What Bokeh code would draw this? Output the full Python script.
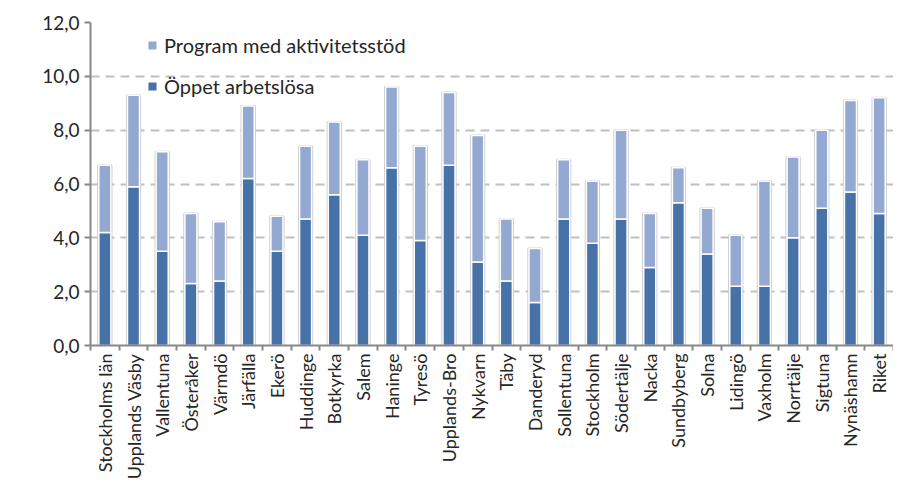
import math
from bokeh.plotting import figure
from bokeh.models import (ColumnDataSource, FixedTicker, CustomJSTickFormatter, Legend,
                          LegendItem, Range1d, Label)
from bokeh.embed import file_html
from bokeh.resources import INLINE

kommuner = ["Stockholms län", "Upplands Väsby", "Vallentuna", "Österåker", "Värmdö",
            "Järfälla", "Ekerö", "Huddinge", "Botkyrka", "Salem", "Haninge", "Tyresö",
            "Upplands-Bro", "Nykvarn", "Täby", "Danderyd", "Sollentuna", "Stockholm",
            "Södertälje", "Nacka", "Sundbyberg", "Solna", "Lidingö", "Vaxholm",
            "Norrtälje", "Sigtuna", "Nynäshamn", "Riket"]
oppet = [4.2, 5.9, 3.5, 2.3, 2.4, 6.2, 3.5, 4.7, 5.6, 4.1, 6.6, 3.9, 6.7, 3.1,
         2.4, 1.6, 4.7, 3.8, 4.7, 2.9, 5.3, 3.4, 2.2, 2.2, 4.0, 5.1, 5.7, 4.9]
program = [2.5, 3.4, 3.7, 2.6, 2.2, 2.7, 1.3, 2.7, 2.7, 2.8, 3.0, 3.5, 2.7, 4.7,
           2.3, 2.0, 2.2, 2.3, 3.3, 2.0, 1.3, 1.7, 1.9, 3.9, 3.0, 2.9, 3.4, 4.3]
y_ticks = [0, 2, 4, 6, 8, 10, 12]

FONT = "Lato"
TXT = "#262626"
DARK = "#4672a8"
LIGHT = "#94a9d1"

n = len(kommuner)
xpos = [i + 0.5 for i in range(n)]
total = [a + b for a, b in zip(oppet, program)]
src = ColumnDataSource(dict(x=xpos, oppet=oppet, program=program, total=total))

p = figure(width=893, height=482, x_range=Range1d(0, n), y_range=Range1d(0, 12),
           output_backend="svg", toolbar_location=None,
           min_border_left=90, min_border_right=0, min_border_top=22, min_border_bottom=135)
p.outline_line_color = None
p.xgrid.grid_line_color = None
p.ygrid.grid_line_color = "#c0c0c0"
p.ygrid.grid_line_width = 2
p.ygrid.grid_line_dash = "9 6"
p.ygrid.ticker = FixedTicker(ticks=y_ticks)

# shadow
p.vbar(x="x", top="total", bottom=0, width=0.46, source=src, fill_color=None,
       line_color="#c8c8c8", line_width=2)
r = p.vbar_stack(["oppet", "program"], x="x", width=0.42, source=src,
                 fill_color=[DARK, LIGHT], line_color="white", line_width=1.5)

p.yaxis.ticker = FixedTicker(ticks=y_ticks)
p.yaxis.formatter = CustomJSTickFormatter(code="return tick.toFixed(1).replace('.', ',');")
p.yaxis.major_label_text_font = FONT
p.yaxis.major_label_text_font_size = "19px"
p.yaxis.major_label_text_color = TXT
p.yaxis.axis_line_color = "#888888"
p.yaxis.axis_line_width = 2
p.yaxis.major_tick_line_color = "#888888"
p.yaxis.major_tick_line_width = 2
p.yaxis.major_tick_out = 6
p.yaxis.major_tick_in = 0
p.yaxis.minor_tick_line_color = None

p.xaxis.ticker = FixedTicker(ticks=xpos, minor_ticks=list(range(n + 1)))
p.xaxis.formatter = CustomJSTickFormatter(args=dict(names=kommuner),
                                          code="return names[Math.floor(tick)];")
p.xaxis.major_label_orientation = math.pi / 2
p.xaxis.major_label_text_font = FONT
p.xaxis.major_label_text_font_size = "18px"
p.xaxis.major_label_text_color = TXT
p.xaxis.major_tick_line_color = None
p.xaxis.major_tick_out = 5
p.xaxis.minor_tick_line_color = "#888888"
p.xaxis.minor_tick_line_width = 2
p.xaxis.minor_tick_out = 5
p.xaxis.minor_tick_in = 0
p.xaxis.axis_line_color = "#888888"
p.xaxis.axis_line_width = 2
p.xaxis.major_label_standoff = 3

p.add_layout(Label(x=-69, y=6, x_units="screen", y_units="data", text="%",
                   text_font=FONT, text_font_size="19px", text_font_style="bold",
                   text_color=TXT, text_align="center", text_baseline="middle"))

legend = Legend(items=[LegendItem(label="Program med aktivitetsstöd", renderers=[r[1]]),
                       LegendItem(label="Öppet arbetslösa", renderers=[r[0]])],
                location=(56, 247), orientation="vertical", padding=0, margin=0,
                glyph_width=12, glyph_height=12, label_height=20, spacing=17,
                label_standoff=6, border_line_alpha=0, background_fill_alpha=0,
                label_text_font=FONT, label_text_font_size="20px", label_text_color=TXT)
p.add_layout(legend)

open("out.html", "w").write(file_html(p, INLINE))
